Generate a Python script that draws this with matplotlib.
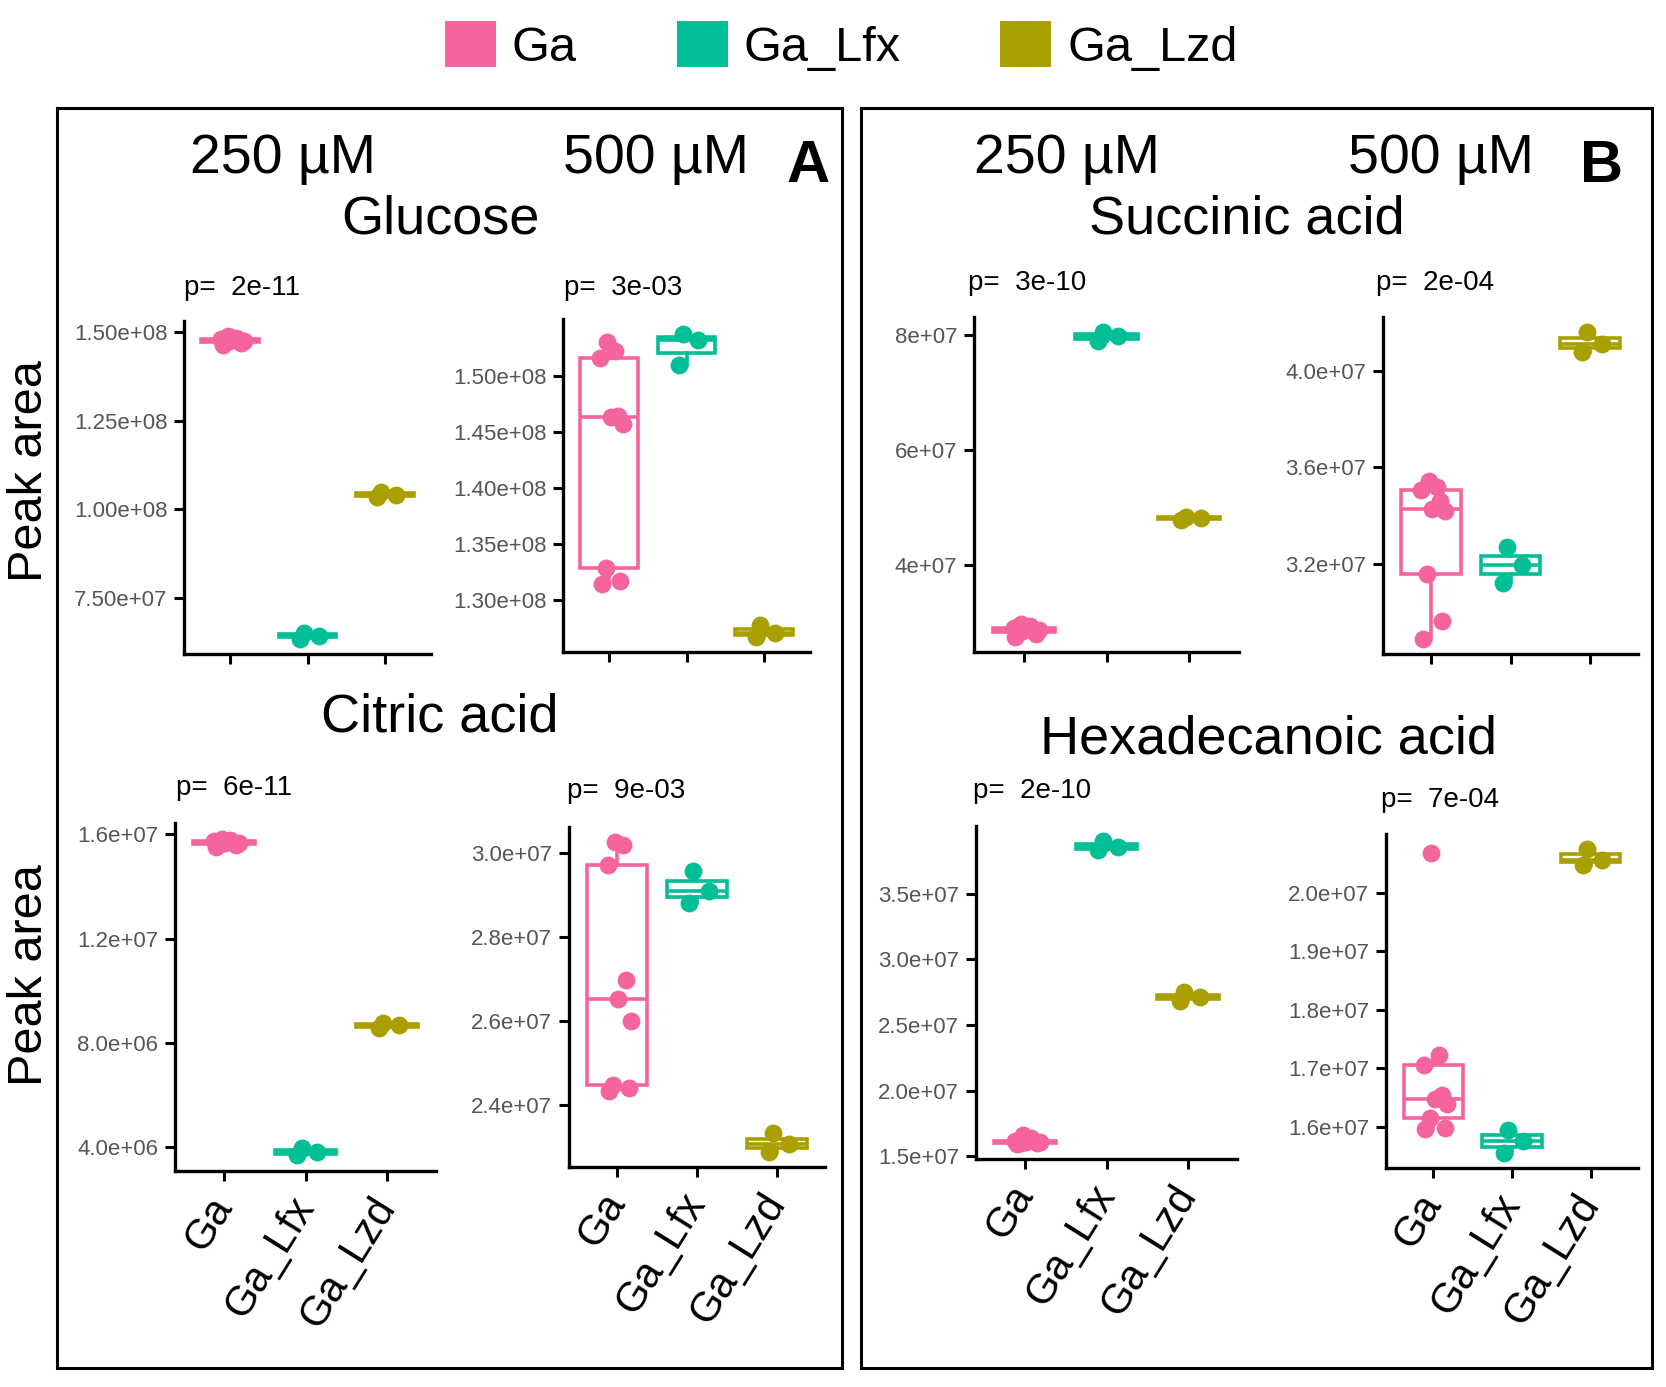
import matplotlib.pyplot as plt
from matplotlib.patches import Patch, Rectangle

plt.rcParams['font.family'] = ['Liberation Sans', 'DejaVu Sans']

W, H = 1666, 1387

groups = ['Ga', 'Ga_Lfx', 'Ga_Lzd']
group_colors = ['#F6649D', '#00BF96', '#A9A000']

# Glucose
glucose_250_ga = [1.462e8, 1.468e8, 1.472e8, 1.474e8, 1.476e8, 1.478e8, 1.48e8, 1.484e8, 1.488e8]
glucose_250_lfx = [6.35e7, 6.44e7, 6.52e7]
glucose_250_lzd = [1.034e8, 1.041e8, 1.05e8]
glucose_500_ga = [1.3149e8, 1.3173e8, 1.329e8, 1.4575e8, 1.4629e8, 1.4643e8, 1.5155e8, 1.5223e8, 1.5297e8]
glucose_500_lfx = [1.5095e8, 1.5318e8, 1.5371e8]
glucose_500_lzd = [1.2675e8, 1.271e8, 1.2785e8]

# Citric acid
citric_250_ga = [1.55e7, 1.558e7, 1.563e7, 1.566e7, 1.568e7, 1.57e7, 1.573e7, 1.578e7, 1.583e7]
citric_250_lfx = [3.7e6, 3.81e6, 3.98e6]
citric_250_lzd = [8.58e6, 8.68e6, 8.78e6]
citric_500_ga = [2.4338e7, 2.44e7, 2.4472e7, 2.6e7, 2.6511e7, 2.6983e7, 2.9725e7, 3.0197e7, 3.025e7]
citric_500_lfx = [2.882e7, 2.9095e7, 2.9567e7]
citric_500_lzd = [2.289e7, 2.308e7, 2.332e7]

# Succinic acid
succinic_250_ga = [2.74e7, 2.79e7, 2.83e7, 2.85e7, 2.86e7, 2.88e7, 2.9e7, 2.93e7, 2.96e7]
succinic_250_lfx = [7.9e7, 7.98e7, 8.05e7]
succinic_250_lzd = [4.78e7, 4.81e7, 4.83e7]
succinic_500_ga = [2.892e7, 2.967e7, 3.159e7, 3.42e7, 3.426e7, 3.46e7, 3.508e7, 3.52e7, 3.542e7]
succinic_500_lfx = [3.122e7, 3.197e7, 3.2727e7]
succinic_500_lzd = [4.075e7, 4.11e7, 4.158e7]

# Hexadecanoic acid
hexa_250_ga = [1.595e7, 1.6e7, 1.603e7, 1.606e7, 1.61e7, 1.615e7, 1.62e7, 1.64e7, 1.665e7]
hexa_250_lfx = [3.83e7, 3.855e7, 3.9e7]
hexa_250_lzd = [2.68e7, 2.71e7, 2.75e7]
hexa_500_ga = [1.5966e7, 1.598e7, 1.6153e7, 1.64e7, 1.6475e7, 1.655e7, 1.7056e7, 1.7226e7, 2.0674e7]
hexa_500_lfx = [1.556e7, 1.5757e7, 1.5955e7]
hexa_500_lzd = [2.047e7, 2.056e7, 2.074e7]

# y ticks
glucose_250_ticks = [7.5e7, 1.0e8, 1.25e8, 1.5e8]
glucose_250_labels = ['7.50e+07', '1.00e+08', '1.25e+08', '1.50e+08']
glucose_500_ticks = [1.30e8, 1.35e8, 1.40e8, 1.45e8, 1.50e8]
glucose_500_labels = ['1.30e+08', '1.35e+08', '1.40e+08', '1.45e+08', '1.50e+08']
citric_250_ticks = [4e6, 8e6, 1.2e7, 1.6e7]
citric_250_labels = ['4.0e+06', '8.0e+06', '1.2e+07', '1.6e+07']
citric_500_ticks = [2.4e7, 2.6e7, 2.8e7, 3.0e7]
citric_500_labels = ['2.4e+07', '2.6e+07', '2.8e+07', '3.0e+07']
succinic_250_ticks = [4e7, 6e7, 8e7]
succinic_250_labels = ['4e+07', '6e+07', '8e+07']
succinic_500_ticks = [3.2e7, 3.6e7, 4.0e7]
succinic_500_labels = ['3.2e+07', '3.6e+07', '4.0e+07']
hexa_250_ticks = [1.5e7, 2.0e7, 2.5e7, 3.0e7, 3.5e7]
hexa_250_labels = ['1.5e+07', '2.0e+07', '2.5e+07', '3.0e+07', '3.5e+07']
hexa_500_ticks = [1.6e7, 1.7e7, 1.8e7, 1.9e7, 2.0e7]
hexa_500_labels = ['1.6e+07', '1.7e+07', '1.8e+07', '1.9e+07', '2.0e+07']

p_values = ['p=  2e-11', 'p=  3e-03', 'p=  6e-11', 'p=  9e-03',
            'p=  3e-10', 'p=  2e-04', 'p=  2e-10', 'p=  7e-04']

jitter = [-0.11, 0.16, -0.05, 0.2, 0.02, 0.13, -0.13, 0.08, -0.03]


def fx(px):
    return px / W


def fy(py):
    return 1 - py / H


def rect(l, t, r, b):
    return [fx(l), fy(b), (r - l) / W, (b - t) / H]


fig = plt.figure(figsize=(W / 100, H / 100), dpi=100)


def panel(box, data, ticks, labels, ptext, ptext_xy, xlabels=True):
    ax = fig.add_axes(rect(*box))
    ax.set_facecolor('none')
    bp = ax.boxplot(data, positions=[1, 2, 3], widths=0.75, patch_artist=True,
                    showfliers=False, showcaps=False, whis=1.5)
    for i, c in enumerate(group_colors):
        bp['boxes'][i].set(facecolor='white', edgecolor=c, linewidth=2.6)
        bp['medians'][i].set(color=c, linewidth=2.6)
        for w in bp['whiskers'][2 * i:2 * i + 2]:
            w.set(color=c, linewidth=2.6)
    for i, vals in enumerate(data):
        xs = [i + 1 + jitter[j % len(jitter)] * 0.9 for j in range(len(vals))]
        ax.scatter(xs, vals, s=165, color=group_colors[i], zorder=3,
                   linewidths=0)
    lo = min(min(v) for v in data)
    hi = max(max(v) for v in data)
    r = hi - lo
    ax.set_ylim(lo - 0.05 * r, hi + 0.05 * r)
    ax.set_xlim(0.4, 3.6)
    ax.set_yticks(ticks)
    ax.set_yticklabels(labels, fontsize=16, color='#555555')
    ax.set_xticks([1, 2, 3])
    ax.tick_params(direction='out', length=7, width=2.2, color='black', pad=5)
    if xlabels:
        ax.set_xticklabels(groups, fontsize=30, rotation=58, ha='right',
                           va='center', rotation_mode='anchor')
        ax.tick_params(axis='x', pad=14)
        for lab in ax.get_xticklabels():
            lab.set_x(lab.get_position()[0])
    else:
        ax.set_xticklabels([])
    for s in ['top', 'right']:
        ax.spines[s].set_visible(False)
    for s in ['left', 'bottom']:
        ax.spines[s].set_linewidth(2.4)
    fig.text(fx(ptext_xy[0]), fy(ptext_xy[1]), ptext, fontsize=20,
             ha='left', va='baseline')
    return ax


panel((184, 321, 431, 654), [glucose_250_ga, glucose_250_lfx, glucose_250_lzd],
      glucose_250_ticks, glucose_250_labels, p_values[0], (184, 295), False)
panel((563, 319, 810, 652), [glucose_500_ga, glucose_500_lfx, glucose_500_lzd],
      glucose_500_ticks, glucose_500_labels, p_values[1], (564, 295), False)
panel((175, 823, 436, 1171), [citric_250_ga, citric_250_lfx, citric_250_lzd],
      citric_250_ticks, citric_250_labels, p_values[2], (176, 795))
panel((569, 827, 825, 1167), [citric_500_ga, citric_500_lfx, citric_500_lzd],
      citric_500_ticks, citric_500_labels, p_values[3], (567, 798))
panel((974, 317, 1239, 652), [succinic_250_ga, succinic_250_lfx, succinic_250_lzd],
      succinic_250_ticks, succinic_250_labels, p_values[4], (968, 290), False)
panel((1383, 317, 1638, 654), [succinic_500_ga, succinic_500_lfx, succinic_500_lzd],
      succinic_500_ticks, succinic_500_labels, p_values[5], (1376, 290), False)
panel((976, 826, 1237, 1159), [hexa_250_ga, hexa_250_lfx, hexa_250_lzd],
      hexa_250_ticks, hexa_250_labels, p_values[6], (973, 798))
panel((1386, 834, 1638, 1168), [hexa_500_ga, hexa_500_lfx, hexa_500_lzd],
      hexa_500_ticks, hexa_500_labels, p_values[7], (1381, 807))

# panel frames
for l, r in [(57, 842), (861, 1652)]:
    fig.patches.append(Rectangle((fx(l), fy(1368)), (r - l) / W, (1368 - 108) / H,
                                 transform=fig.transFigure, fill=False,
                                 edgecolor='black', linewidth=2.2))

# headers
for x, t in [(283, '250 µM'), (656, '500 µM'), (1067, '250 µM'), (1441, '500 µM')]:
    fig.text(fx(x), fy(173), t, fontsize=40, ha='center', va='baseline')
fig.text(fx(808), fy(182), 'A', fontsize=43, fontweight='bold', ha='center', va='baseline')
fig.text(fx(1601), fy(182), 'B', fontsize=43, fontweight='bold', ha='center', va='baseline')

for x, y, t in [(440, 234, 'Glucose'), (1247, 234, 'Succinic acid'),
                (440, 732, 'Citric acid'), (1268, 753, 'Hexadecanoic acid')]:
    fig.text(fx(x), fy(y), t, fontsize=39, ha='center', va='baseline')

for y in [471, 975]:
    fig.text(fx(30), fy(y), 'Peak area', fontsize=35, rotation=90,
             ha='center', va='center')

handles = [Patch(facecolor=c, edgecolor='none') for c in group_colors]
fig.legend(handles, groups, loc='center', bbox_to_anchor=(0.505, fy(46)),
           ncol=3, frameon=False, fontsize=35, handlelength=1.05,
           handleheight=1.05, handletextpad=0.33, columnspacing=2.05)

fig.savefig('out.png', dpi=100)
